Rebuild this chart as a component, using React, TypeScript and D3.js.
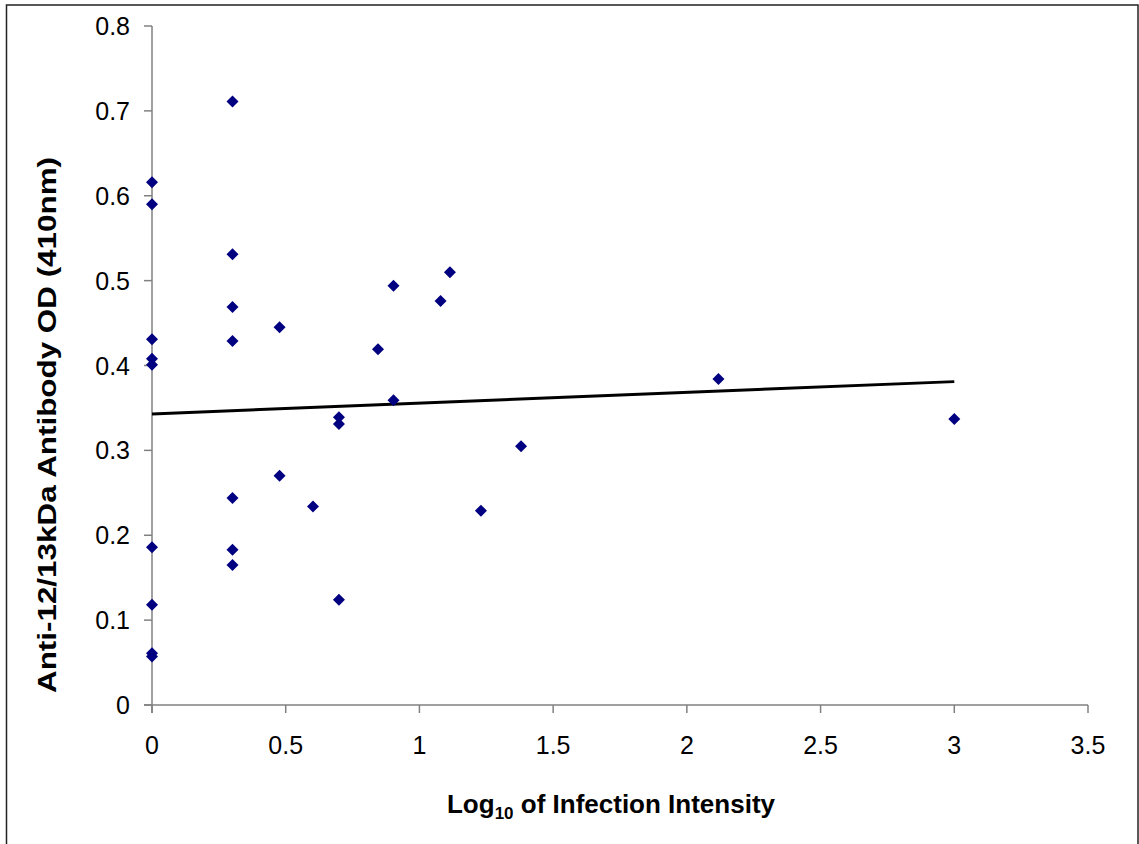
import React, { useEffect, useRef } from "react";
import * as d3 from "d3";

const xValues = [
  0, 0, 0, 0, 0, 0, 0, 0, 0,
  0.301, 0.301, 0.301, 0.301, 0.301, 0.301, 0.301,
  0.477, 0.477, 0.602, 0.699, 0.699, 0.699,
  0.845, 0.903, 0.903, 1.079, 1.114, 1.23, 1.38, 2.118, 3.0,
];
const yValues = [
  0.616, 0.59, 0.431, 0.408, 0.401, 0.186, 0.118, 0.061, 0.057,
  0.711, 0.531, 0.469, 0.429, 0.244, 0.183, 0.165,
  0.445, 0.27, 0.234, 0.339, 0.331, 0.124,
  0.419, 0.494, 0.359, 0.476, 0.51, 0.229, 0.305, 0.384, 0.337,
];
const trendX = [0, 3];
const trendY = [0.343, 0.381];
const xTicks = [0, 0.5, 1, 1.5, 2, 2.5, 3, 3.5];
const yTicks = [0, 0.1, 0.2, 0.3, 0.4, 0.5, 0.6, 0.7, 0.8];
const xTitleMain = "Log";
const xTitleSub = "10";
const xTitleRest = " of Infection Intensity";
const yTitle = "Anti-12/13kDa Antibody OD (410nm)";

export default function App() {
  const ref = useRef<SVGSVGElement | null>(null);
  useEffect(() => {
    const svg = d3.select(ref.current);
    svg.selectAll("*").remove();
    const W = 1139, H = 844;
    const x = d3.scaleLinear().domain([0, 3.5]).range([152, 1088]);
    const y = d3.scaleLinear().domain([0, 0.8]).range([705, 26]);
    const font = "'Liberation Sans', Arial, sans-serif";

    svg.append("rect").attr("width", W).attr("height", H).attr("fill", "#fff");
    // frame
    svg.append("rect").attr("x", 6.5).attr("y", 5).attr("width", 1131.5).attr("height", H + 20)
      .attr("fill", "none").attr("stroke", "#222").attr("stroke-width", 1.5);

    const axisColor = "#808080";
    // y axis
    svg.append("line").attr("x1", x(0)).attr("x2", x(0)).attr("y1", y(0.8)).attr("y2", y(0) + 8)
      .attr("stroke", axisColor).attr("stroke-width", 1.5);
    svg.selectAll(".yt").data(yTicks).enter().append("line")
      .attr("x1", x(0) - 8).attr("x2", x(0)).attr("y1", (d) => y(d)).attr("y2", (d) => y(d))
      .attr("stroke", axisColor).attr("stroke-width", 1.5);
    svg.selectAll(".yl").data(yTicks).enter().append("text")
      .attr("x", 130).attr("y", (d) => y(d)).attr("dy", "0.36em")
      .attr("text-anchor", "end").attr("font-family", font).attr("font-size", 25)
      .text((d) => (d === 0 ? "0" : d3.format(".1f")(d)));
    // x axis
    svg.append("line").attr("x1", x(0) - 8).attr("x2", x(3.5)).attr("y1", y(0)).attr("y2", y(0))
      .attr("stroke", axisColor).attr("stroke-width", 1.5);
    svg.selectAll(".xt").data(xTicks).enter().append("line")
      .attr("x1", (d) => x(d)).attr("x2", (d) => x(d)).attr("y1", y(0)).attr("y2", y(0) + 8)
      .attr("stroke", axisColor).attr("stroke-width", 1.5);
    svg.selectAll(".xl").data(xTicks).enter().append("text")
      .attr("x", (d) => x(d)).attr("y", 754)
      .attr("text-anchor", "middle").attr("font-family", font).attr("font-size", 25)
      .text((d) => String(d));

    // trend line
    const line = d3.line<number>().x((_, i) => x(trendX[i])).y((d) => y(d));
    svg.append("path").attr("d", line(trendY) || "").attr("fill", "none")
      .attr("stroke", "#000").attr("stroke-width", 3);

    // points
    svg.selectAll(".pt").data(xValues).enter().append("path")
      .attr("d", () => d3.symbol().type(d3.symbolSquare).size(72)() || "")
      .attr("transform", (d, i) => `translate(${x(d)},${y(yValues[i])}) rotate(45)`)
      .attr("fill", "#000080");

    // titles
    const xt = svg.append("text").attr("x", 611).attr("y", 813).attr("text-anchor", "middle")
      .attr("font-family", font).attr("font-size", 26).attr("font-weight", "bold");
    xt.append("tspan").text(xTitleMain);
    xt.append("tspan").attr("font-size", 17).attr("dy", 6).text(xTitleSub);
    xt.append("tspan").attr("dy", -6).text(xTitleRest);

    svg.append("text").attr("transform", `translate(56,425) rotate(-90)`)
      .attr("text-anchor", "middle").attr("font-family", font).attr("font-size", 26)
      .attr("font-weight", "bold")
      .attr("textLength", 536).attr("lengthAdjust", "spacingAndGlyphs")
      .text(yTitle);
  }, []);
  return (
    <div style={{ position: "absolute", left: 0, top: 0 }}>
      <svg ref={ref} width={1139} height={844} style={{ display: "block" }} />
    </div>
  );
}
